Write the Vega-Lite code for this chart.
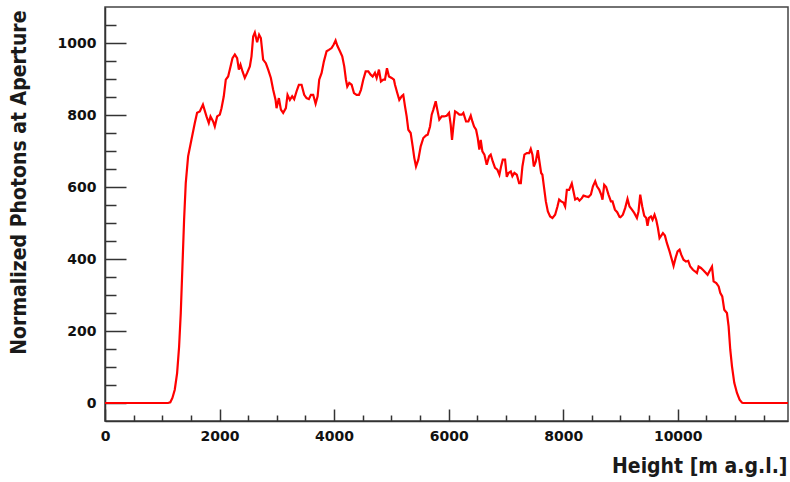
{
  "$schema": "https://vega.github.io/schema/vega-lite/v6.json",
  "width": 683,
  "height": 414,
  "autosize": {"type": "none"},
  "padding": {"left": 105, "top": 7, "right": 2, "bottom": 61},
  "background": "white",
  "config": {
    "view": {"stroke": "#444", "strokeWidth": 1.5},
    "axis": {
      "grid": false,
      "domainColor": "#333",
      "domainWidth": 1.5,
      "tickColor": "#333",
      "tickWidth": 1.5,
      "labelFont": "DejaVu Sans",
      "labelFontWeight": "bold",
      "labelFontSize": 14,
      "labelColor": "#111",
      "titleFont": "DejaVu Sans Condensed, DejaVu Sans",
      "titleFontSize": 21,
      "titleFontWeight": "bold",
      "titleColor": "#1a1a1a"
    }
  },
  "data": {"values": [
    {"h":0,"p":0},{"h":1100,"p":0},{"h":1140,"p":2},{"h":1177,"p":14},{"h":1218,"p":37},{"h":1259,"p":83},{"h":1294,"p":157},{"h":1323,"p":250},{"h":1352,"p":379},{"h":1381,"p":509},{"h":1410,"p":611},{"h":1451,"p":685},{"h":1509,"p":731},{"h":1568,"p":778},{"h":1608,"p":806},{"h":1655,"p":810},{"h":1710,"p":829},{"h":1772,"p":796},{"h":1812,"p":778},{"h":1842,"p":796},{"h":1888,"p":782},{"h":1917,"p":768},{"h":1958,"p":796},{"h":2005,"p":801},{"h":2034,"p":819},{"h":2074,"p":852},{"h":2109,"p":898},{"h":2150,"p":907},{"h":2192,"p":935},{"h":2226,"p":958},{"h":2267,"p":968},{"h":2307,"p":958},{"h":2337,"p":926},{"h":2366,"p":940},{"h":2401,"p":921},{"h":2441,"p":903},{"h":2482,"p":917},{"h":2529,"p":935},{"h":2558,"p":963},{"h":2587,"p":1018},{"h":2616,"p":1029},{"h":2656,"p":1002},{"h":2691,"p":1023},{"h":2721,"p":1014},{"h":2761,"p":954},{"h":2808,"p":944},{"h":2849,"p":926},{"h":2896,"p":903},{"h":2936,"p":870},{"h":2978,"p":842},{"h":2995,"p":819},{"h":3036,"p":847},{"h":3071,"p":815},{"h":3111,"p":806},{"h":3158,"p":819},{"h":3187,"p":856},{"h":3228,"p":842},{"h":3268,"p":852},{"h":3303,"p":844},{"h":3345,"p":866},{"h":3385,"p":884},{"h":3432,"p":884},{"h":3478,"p":856},{"h":3519,"p":847},{"h":3560,"p":844},{"h":3595,"p":856},{"h":3635,"p":856},{"h":3677,"p":831},{"h":3712,"p":852},{"h":3740,"p":898},{"h":3782,"p":917},{"h":3822,"p":949},{"h":3869,"p":977},{"h":3909,"p":981},{"h":3956,"p":986},{"h":3991,"p":995},{"h":4026,"p":1007},{"h":4055,"p":993},{"h":4102,"p":977},{"h":4142,"p":963},{"h":4177,"p":935},{"h":4207,"p":898},{"h":4230,"p":879},{"h":4265,"p":889},{"h":4306,"p":884},{"h":4347,"p":861},{"h":4393,"p":856},{"h":4434,"p":856},{"h":4469,"p":870},{"h":4509,"p":898},{"h":4551,"p":921},{"h":4597,"p":921},{"h":4638,"p":912},{"h":4673,"p":907},{"h":4713,"p":917},{"h":4743,"p":903},{"h":4783,"p":926},{"h":4818,"p":893},{"h":4859,"p":898},{"h":4888,"p":898},{"h":4923,"p":930},{"h":4958,"p":907},{"h":5005,"p":903},{"h":5045,"p":898},{"h":5063,"p":884},{"h":5103,"p":861},{"h":5138,"p":842},{"h":5180,"p":852},{"h":5208,"p":856},{"h":5238,"p":824},{"h":5267,"p":796},{"h":5296,"p":759},{"h":5337,"p":750},{"h":5372,"p":713},{"h":5400,"p":681},{"h":5430,"p":657},{"h":5470,"p":676},{"h":5512,"p":713},{"h":5558,"p":736},{"h":5605,"p":743},{"h":5634,"p":745},{"h":5675,"p":768},{"h":5704,"p":801},{"h":5733,"p":815},{"h":5774,"p":838},{"h":5802,"p":815},{"h":5837,"p":787},{"h":5879,"p":796},{"h":5919,"p":796},{"h":5966,"p":798},{"h":6007,"p":806},{"h":6036,"p":773},{"h":6059,"p":731},{"h":6082,"p":768},{"h":6112,"p":810},{"h":6152,"p":806},{"h":6187,"p":801},{"h":6229,"p":801},{"h":6257,"p":806},{"h":6304,"p":782},{"h":6344,"p":782},{"h":6386,"p":798},{"h":6414,"p":782},{"h":6444,"p":768},{"h":6479,"p":759},{"h":6508,"p":736},{"h":6536,"p":704},{"h":6560,"p":731},{"h":6589,"p":699},{"h":6624,"p":690},{"h":6665,"p":662},{"h":6706,"p":685},{"h":6735,"p":690},{"h":6770,"p":671},{"h":6810,"p":653},{"h":6851,"p":648},{"h":6886,"p":634},{"h":6915,"p":657},{"h":6945,"p":676},{"h":6985,"p":676},{"h":7015,"p":628},{"h":7044,"p":639},{"h":7085,"p":643},{"h":7113,"p":630},{"h":7148,"p":639},{"h":7190,"p":634},{"h":7230,"p":611},{"h":7260,"p":611},{"h":7288,"p":657},{"h":7323,"p":690},{"h":7364,"p":694},{"h":7405,"p":694},{"h":7434,"p":706},{"h":7463,"p":690},{"h":7487,"p":657},{"h":7522,"p":671},{"h":7557,"p":702},{"h":7585,"p":671},{"h":7615,"p":639},{"h":7637,"p":634},{"h":7667,"p":597},{"h":7697,"p":560},{"h":7732,"p":532},{"h":7772,"p":518},{"h":7812,"p":514},{"h":7859,"p":523},{"h":7900,"p":546},{"h":7929,"p":565},{"h":7964,"p":560},{"h":8004,"p":557},{"h":8034,"p":546},{"h":8064,"p":592},{"h":8104,"p":592},{"h":8150,"p":610},{"h":8179,"p":588},{"h":8209,"p":565},{"h":8249,"p":569},{"h":8284,"p":562},{"h":8326,"p":569},{"h":8354,"p":576},{"h":8396,"p":574},{"h":8442,"p":572},{"h":8484,"p":579},{"h":8519,"p":602},{"h":8559,"p":616},{"h":8589,"p":602},{"h":8628,"p":593},{"h":8663,"p":579},{"h":8686,"p":565},{"h":8716,"p":606},{"h":8750,"p":600},{"h":8791,"p":579},{"h":8833,"p":560},{"h":8861,"p":560},{"h":8903,"p":537},{"h":8943,"p":530},{"h":8983,"p":517},{"h":9000,"p":516},{"h":9042,"p":523},{"h":9083,"p":542},{"h":9123,"p":567},{"h":9158,"p":546},{"h":9200,"p":537},{"h":9240,"p":528},{"h":9287,"p":514},{"h":9315,"p":532},{"h":9345,"p":579},{"h":9380,"p":546},{"h":9415,"p":520},{"h":9450,"p":514},{"h":9472,"p":492},{"h":9497,"p":514},{"h":9532,"p":518},{"h":9560,"p":509},{"h":9595,"p":523},{"h":9624,"p":509},{"h":9654,"p":486},{"h":9682,"p":458},{"h":9712,"p":465},{"h":9741,"p":472},{"h":9776,"p":465},{"h":9811,"p":444},{"h":9857,"p":421},{"h":9898,"p":398},{"h":9927,"p":381},{"h":9962,"p":403},{"h":9997,"p":421},{"h":10032,"p":426},{"h":10061,"p":412},{"h":10101,"p":398},{"h":10143,"p":393},{"h":10183,"p":395},{"h":10218,"p":379},{"h":10265,"p":370},{"h":10300,"p":366},{"h":10335,"p":361},{"h":10364,"p":379},{"h":10405,"p":375},{"h":10451,"p":368},{"h":10521,"p":356},{"h":10568,"p":370},{"h":10598,"p":379},{"h":10626,"p":338},{"h":10673,"p":333},{"h":10714,"p":324},{"h":10742,"p":306},{"h":10777,"p":296},{"h":10812,"p":259},{"h":10859,"p":250},{"h":10888,"p":213},{"h":10917,"p":148},{"h":10947,"p":102},{"h":10987,"p":56},{"h":11034,"p":28},{"h":11080,"p":9},{"h":11121,"p":1},{"h":11140,"p":0},{"h":11925,"p":0}
  ]},
  "resolve": {"axis": {"x": "independent", "y": "independent"}},
  "layer": [
    {
      "mark": {"type": "line", "color": "#ff0000", "strokeWidth": 2.2},
      "encoding": {
        "x": {
          "field": "h", "type": "quantitative",
          "scale": {"domain": [0, 11925], "nice": false, "zero": false},
          "axis": {
            "orient": "bottom",
            "values": [0, 2000, 4000, 6000, 8000, 10000],
            "format": "d",
            "tickSize": -12,
            "labelPadding": 20,
            "labelFlush": false,
            "labelOverlap": false,
            "title": "Height [m a.g.l.]",
            "titleAlign": "right",
            "titleBaseline": "alphabetic",
            "titleX": 682,
            "titleY": 51
          }
        },
        "y": {
          "field": "p", "type": "quantitative",
          "scale": {"domain": [-50, 1100], "nice": false, "zero": false},
          "axis": {
            "orient": "left",
            "values": [0, 200, 400, 600, 800, 1000],
            "format": "d",
            "tickSize": -21,
            "labelPadding": 30,
            "labelFlush": false,
            "labelOverlap": false,
            "labelBaseline": "middle",
            "title": "Normalized Photons at Aperture",
            "titleAngle": 270,
            "titleAlign": "right",
            "titleBaseline": "alphabetic",
            "titleX": -80,
            "titleY": 3
          }
        }
      }
    },
    {
      "mark": {"type": "line", "opacity": 0},
      "encoding": {
        "x": {
          "field": "h", "type": "quantitative",
          "axis": {
            "orient": "bottom",
            "values": [500, 1000, 1500, 2500, 3000, 3500, 4500, 5000, 5500, 6500, 7000, 7500, 8500, 9000, 9500, 10500, 11000, 11500],
            "tickSize": -6,
            "labels": false,
            "domain": false,
            "title": null
          }
        },
        "y": {
          "field": "p", "type": "quantitative",
          "axis": {
            "orient": "left",
            "values": [50, 100, 150, 250, 300, 350, 450, 500, 550, 650, 700, 750, 850, 900, 950, 1050],
            "tickSize": -11,
            "labels": false,
            "domain": false,
            "title": null
          }
        }
      }
    }
  ]
}
